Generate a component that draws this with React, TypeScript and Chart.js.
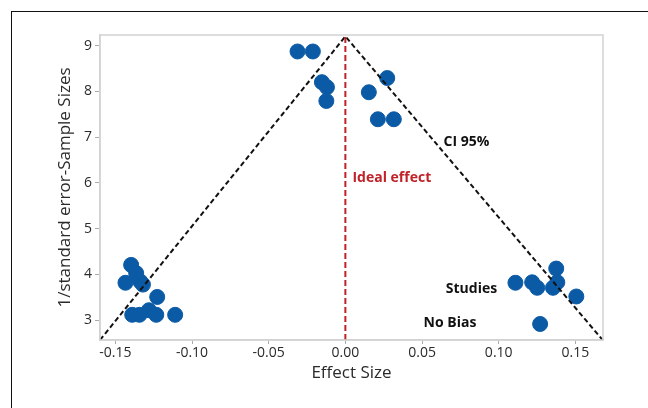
import React, { useEffect, useRef } from "react";
import { Chart, registerables } from "chart.js";

Chart.register(...registerables);

// Study points (effect size, 1/standard error)
const studyX = [
  -0.0312, -0.0212, -0.0153, -0.012, -0.0124, 0.0273, 0.0153, 0.0212, 0.0316,
  -0.1397, -0.1364, -0.1434, -0.1338, -0.132, -0.1227, -0.139, -0.1343, -0.1281, -0.1233, -0.111,
  0.1375, 0.1109, 0.1218, 0.1251, 0.1354, 0.1382, 0.1506, 0.127,
];
const studyY = [
  8.87, 8.87, 8.2, 8.09, 7.79, 8.29, 7.98, 7.39, 7.39,
  4.21, 4.03, 3.82, 3.85, 3.78, 3.51, 3.12, 3.12, 3.22, 3.12, 3.12,
  4.13, 3.82, 3.83, 3.71, 3.71, 3.83, 3.52, 2.92,
];

// 95% CI funnel
const funnelX = [-0.16, 0, 0.168];
const funnelY = [2.57, 9.2, 2.56];

// Ideal effect line
const idealX = [0, 0];
const idealY = [2.57, 9.2];

// Axis ranges and ticks
const xMin = -0.16;
const xMax = 0.168;
const yMin = 2.57;
const yMax = 9.23;
const xTicks = [-0.15, -0.1, -0.05, 0, 0.05, 0.1, 0.15];
const yTicks = [3, 4, 5, 6, 7, 8, 9];

// Annotations
const noteText = ["CI 95%", "Ideal effect", "Studies", "No Bias"];
const noteX = [0.064, 0.0046, 0.0655, 0.051];
const noteY = [6.9, 6.11, 3.69, 2.95];
const noteColor = ["#111111", "#c0222a", "#111111", "#111111"];

const FONT = "'Open Sans', 'Noto Sans', sans-serif";

export default function App() {
  const ref = useRef<HTMLCanvasElement | null>(null);

  useEffect(() => {
    if (!ref.current) return;
    const frame = {
      id: "frame",
      afterDatasetsDraw(chart: any) {
        const { ctx, chartArea, scales } = chart;
        ctx.save();
        ctx.strokeStyle = "#d2d2d2";
        ctx.lineWidth = 1.5;
        ctx.strokeRect(chartArea.left, chartArea.top, chartArea.right - chartArea.left, chartArea.bottom - chartArea.top);
        ctx.font = `bold 14px ${FONT}`;
        ctx.textBaseline = "middle";
        ctx.textAlign = "left";
        for (let i = 0; i < noteText.length; i++) {
          ctx.fillStyle = noteColor[i];
          ctx.fillText(noteText[i], scales.x.getPixelForValue(noteX[i]), scales.y.getPixelForValue(noteY[i]));
        }
        ctx.restore();
      },
    };
    const chart = new Chart(ref.current, {
      type: "scatter",
      data: {
        datasets: [
          {
            type: "line",
            data: idealX.map((x, i) => ({ x, y: idealY[i] })),
            borderColor: "#c0222a",
            borderWidth: 2,
            borderDash: [6, 3],
            pointRadius: 0,
            fill: false,
          } as any,
          {
            type: "line",
            data: funnelX.map((x, i) => ({ x, y: funnelY[i] })),
            borderColor: "#111111",
            borderWidth: 2,
            borderDash: [5, 3],
            pointRadius: 0,
            fill: false,
            tension: 0,
          } as any,
          {
            data: studyX.map((x, i) => ({ x, y: studyY[i] })),
            backgroundColor: "#0b5aa5",
            borderColor: "#0b5aa5",
            pointRadius: 7.5,
            pointHoverRadius: 7.5,
          },
        ],
      },
      options: {
        animation: false,
        responsive: false,
        layout: { padding: { top: 35, right: 45, left: 0, bottom: 0 } },
        plugins: { legend: { display: false }, tooltip: { enabled: false } },
        scales: {
          x: {
            type: "linear",
            min: xMin,
            max: xMax,
            afterFit: (s: any) => { s.height = 68; },
            afterBuildTicks: (s: any) => { s.ticks = xTicks.map((v) => ({ value: v })); },
            border: { display: true, color: "#d2d2d2", width: 1.5 },
            grid: { drawOnChartArea: false, drawTicks: true, tickLength: 4, color: "#aaaaaa" },
            ticks: {
              color: "#2a2a2a",
              font: { family: FONT, size: 14 },
              padding: 1,
              maxRotation: 0,
              callback: (v: any) => Number(v).toFixed(2),
            },
            title: {
              display: true,
              text: "Effect Size",
              color: "#2a2a2a",
              font: { family: FONT, size: 17 },
              padding: { top: 0, bottom: 25 },
            },
          },
          y: {
            type: "linear",
            min: yMin,
            max: yMax,
            afterFit: (s: any) => { s.width = 100; },
            afterBuildTicks: (s: any) => { s.ticks = yTicks.map((v) => ({ value: v })); },
            border: { display: true, color: "#d2d2d2", width: 1.5 },
            grid: { drawOnChartArea: false, drawTicks: true, tickLength: 5, color: "#aaaaaa" },
            ticks: {
              color: "#2a2a2a",
              font: { family: FONT, size: 14 },
              padding: 3,
              callback: (v: any) => String(v),
            },
            title: {
              display: true,
              text: "1/standard error-Sample Sizes",
              color: "#2a2a2a",
              font: { family: FONT, size: 17 },
              padding: { top: 55, bottom: 0 },
            },
          },
        },
      },
      plugins: [frame],
    } as any);
    return () => chart.destroy();
  }, []);

  return (
    <div style={{ position: "fixed", left: 0, top: 0, width: 648, height: 408, background: "#fff", overflow: "hidden" }}>
      <div style={{ position: "absolute", left: 11, top: 11, width: 700, height: 500, borderLeft: "1px solid #111", borderTop: "1px solid #111" }} />
      <canvas ref={ref} width={648} height={408} style={{ position: "absolute", left: 0, top: 0 }} />
    </div>
  );
}
